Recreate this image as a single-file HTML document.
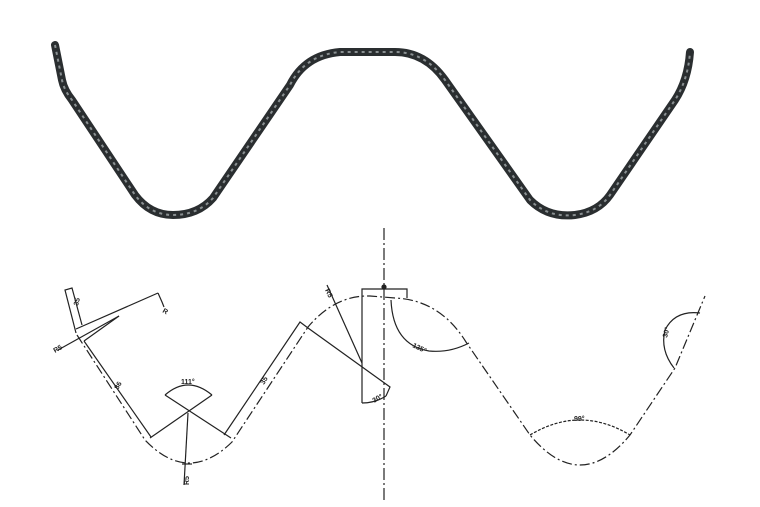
<!DOCTYPE html>
<html><head><meta charset="utf-8"><style>
html,body{margin:0;padding:0;background:#fff;}
svg{display:block;}
text{font-family:"Liberation Sans",sans-serif;font-size:7px;font-weight:bold;fill:#222;}
</style></head><body>
<svg width="760" height="507" viewBox="0 0 760 507" xmlns="http://www.w3.org/2000/svg">
<rect width="760" height="507" fill="#fff"/>
<path d="M55,45 L62,80 Q64,90 72,100 L135,195 Q150,215 173,215 Q198,215 213,198 L290,85 Q305,55 340,52 L395,52 Q425,52 445,80 L530,200 Q548,218 575,215 Q598,212 610,195 L675,100 Q688,80 690,52"
 fill="none" stroke="#2a2e30" stroke-width="8" stroke-linecap="round" stroke-linejoin="round"/>
<path d="M55,45 L62,80 Q64,90 72,100 L135,195 Q150,215 173,215 Q198,215 213,198 L290,85 Q305,55 340,52 L395,52 Q425,52 445,80 L530,200 Q548,218 575,215 Q598,212 610,195 L675,100 Q688,80 690,52"
 fill="none" stroke="#8a9092" stroke-width="2" stroke-dasharray="3 4"/>
<g fill="none" stroke="#222" stroke-width="1.2">
<path d="M77,335 L145,440 Q188,485 232,442 L308,327 Q335,295 370,296 L395,298 Q440,300 466,342 L530,435 Q580,495 630,435 L675,368 L705,296" stroke-dasharray="10 3 2 3"/>
<line x1="384" y1="228" x2="384" y2="500" stroke-dasharray="12 3 2 3"/>
<polyline points="76,333 65,290 72,288 82,325"/>
<polyline points="84,341 151,437"/>
<line x1="76" y1="329" x2="158" y2="293"/>
<line x1="84" y1="341" x2="119" y2="316"/>
<polyline points="158,293 162,302 164,307"/>
<line x1="58" y1="350" x2="119" y2="316"/>
<line x1="150" y1="438" x2="212" y2="395"/>
<line x1="231" y1="438" x2="165" y2="395"/>
<path d="M165,395 Q188,375 212,395"/>
<line x1="188" y1="413" x2="184" y2="485"/>
<line x1="182" y1="464" x2="192" y2="464"/>
<polyline points="224,435 300,322 308,328 390,387 386,396"/>
<line x1="327" y1="285" x2="362" y2="363"/>
<polyline points="362,403 362,289 407,289 407,298"/>
<path d="M362,403 Q375,403 386,396"/>
<circle cx="384" cy="287" r="2" fill="#222"/>
<path d="M391,300 Q393,345 429,351 Q450,353 469,343"/>
<path d="M530,435 Q580,405 630,435" stroke-dasharray="3 1.5"/>
<path d="M674,368 Q660,350 665,330 Q675,310 700,313"/>
</g>
<text x="78" y="306" transform="rotate(-75 78 306)">35</text>
<text x="162" y="312" transform="rotate(30 162 312)">R</text>
<text x="55" y="353" transform="rotate(-30 55 353)">R5</text>
<text x="118" y="390" transform="rotate(-60 118 390)">86</text>
<text x="181" y="384">111°</text>
<text x="189" y="485" transform="rotate(-90 189 485)">R5</text>
<text x="264" y="385" transform="rotate(-60 264 385)">35</text>
<text x="325" y="290" transform="rotate(65 325 290)">R5</text>
<text x="374" y="403" transform="rotate(-30 374 403)">30°</text>
<text x="412" y="347" transform="rotate(25 412 347)">135°</text>
<text x="574" y="421">99°</text>
<text x="667" y="338" transform="rotate(-75 667 338)">30°</text>
</svg>
</body></html>
